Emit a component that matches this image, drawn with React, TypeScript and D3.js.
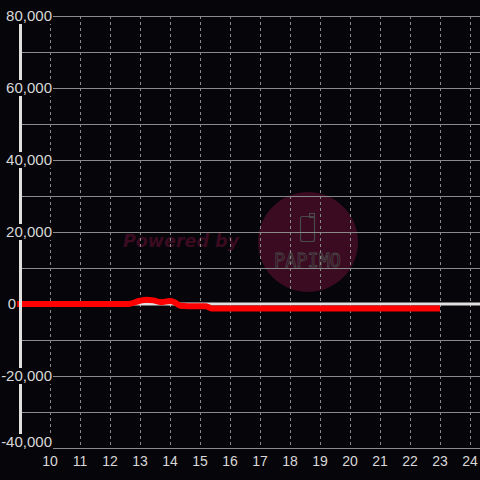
import React, { useEffect, useRef } from 'react';
import * as d3 from 'd3';

// series (hours vs value)
const times = [8.9, 12.6, 13.0, 13.2, 13.45, 13.7, 14.0, 14.15, 14.35, 14.6, 15.2, 15.4, 23];
const values = [0, 0, 900, 1200, 1000, 500, 800, 500, -500, -600, -600, -1250, -1250];

const yGridTicks = [-40000, -30000, -20000, -10000, 0, 10000, 20000, 30000, 40000, 50000, 60000, 70000, 80000];
const yLabelTicks = [-40000, -20000, 0, 20000, 40000, 60000, 80000];
const xTicks = [10, 11, 12, 13, 14, 15, 16, 17, 18, 19, 20, 21, 22, 23, 24];

const W = 480;
const H = 480;
const BG = '#060509';

const App: React.FC = () => {
  const ref = useRef<SVGSVGElement | null>(null);

  useEffect(() => {
    if (!ref.current) return;
    const svg = d3.select<SVGSVGElement, unknown>(ref.current);
    svg.selectAll('*').remove();

    const x = d3.scaleLinear().domain([9, 24]).range([20, 470]);
    const y = d3.scaleLinear().domain([-40000, 80000]).range([448, 16]);

    svg.append('rect').attr('width', W).attr('height', H).attr('fill', BG);

    // watermark
    const wm = svg.append('g');
    wm.append('text')
      .attr('x', 123)
      .attr('y', 247)
      .attr('font-family', 'DejaVu Sans')
      .attr('font-weight', 'bold')
      .attr('font-style', 'italic')
      .attr('font-size', 17.5)
      .attr('fill', '#3a0b21')
      .text('Powered by');
    wm.append('circle').attr('cx', 308).attr('cy', 242).attr('r', 50).attr('fill', '#3a0b21');
    wm.append('rect')
      .attr('x', 300.5).attr('y', 216.5).attr('width', 14).attr('height', 25).attr('rx', 2)
      .attr('fill', 'none').attr('stroke', '#4a4a4a').attr('stroke-width', 1.2);
    wm.append('rect')
      .attr('x', 309.5).attr('y', 213.5).attr('width', 5).attr('height', 4)
      .attr('fill', 'none').attr('stroke', '#4a4a4a').attr('stroke-width', 1.2);
    wm.append('text')
      .attr('x', 274)
      .attr('y', 267)
      .attr('font-family', 'DejaVu Sans Mono')
      .attr('font-size', 20)
      .attr('textLength', 67)
      .attr('lengthAdjust', 'spacingAndGlyphs')
      .attr('fill', 'none')
      .attr('stroke', '#4a4a4a')
      .attr('stroke-width', 0.8)
      .text('PAPIMO');

    // grid
    svg.append('g')
      .selectAll('line')
      .data(yGridTicks)
      .enter()
      .append('line')
      .attr('x1', 20).attr('x2', W)
      .attr('y1', (d: number) => Math.round(y(d)) + 0.5)
      .attr('y2', (d: number) => Math.round(y(d)) + 0.5)
      .attr('stroke', '#8a8a8a')
      .attr('stroke-width', 1);

    svg.append('g')
      .selectAll('line')
      .data(xTicks)
      .enter()
      .append('line')
      .attr('x1', (d: number) => Math.round(x(d)) + 0.5)
      .attr('x2', (d: number) => Math.round(x(d)) + 0.5)
      .attr('y1', y(80000)).attr('y2', y(-40000))
      .attr('stroke', '#8a8a8a')
      .attr('stroke-dasharray', '3,3')
      .attr('stroke-width', 1);

    // zero line
    svg.append('line')
      .attr('x1', 20).attr('x2', W)
      .attr('y1', y(0)).attr('y2', y(0))
      .attr('stroke', '#e0e0e0')
      .attr('stroke-width', 3);

    // series
    const pts = times.map((t, i) => [t, values[i]] as [number, number]);
    const line = d3.line<[number, number]>()
      .x((d) => x(d[0]))
      .y((d) => y(d[1]))
      .curve(d3.curveMonotoneX);
    svg.append('path')
      .attr('d', line(pts) as string)
      .attr('fill', 'none')
      .attr('stroke', '#ff0000')
      .attr('stroke-width', 6)
      .attr('stroke-linejoin', 'round');

    // y axis
    svg.append('line')
      .attr('x1', 20.5).attr('x2', 20.5)
      .attr('y1', y(80000)).attr('y2', y(-40000))
      .attr('stroke', '#e0e0e0')
      .attr('stroke-width', 3);

    // y labels with background
    const yl = svg.append('g')
      .attr('font-family', 'Liberation Sans, Arial, sans-serif')
      .attr('font-size', 15)
      .attr('fill', '#d8d8d8');
    yLabelTicks.forEach((v) => {
      const cy = Math.min(y(v), 442);
      const isZero = v === 0;
      const bgRect = yl.append('rect').attr('fill', BG);
      const t = yl.append('text')
        .attr('x', isZero ? 12 : 52)
        .attr('y', cy)
        .attr('dy', '0.35em')
        .attr('text-anchor', isZero ? 'middle' : 'end')
        .text(d3.format(',')(v).replace('\u2212', '-'));
      const bb = (t.node() as SVGTextElement).getBBox();
      bgRect
        .attr('x', bb.x - 1)
        .attr('y', cy - 8)
        .attr('width', bb.width + 2)
        .attr('height', 16);
    });

    // x labels
    svg.append('g')
      .attr('font-family', 'Liberation Sans, Arial, sans-serif')
      .attr('font-size', 14)
      .attr('fill', '#d8d8d8')
      .selectAll('text')
      .data(xTicks)
      .enter()
      .append('text')
      .attr('x', (d: number) => x(d))
      .attr('y', 461)
      .attr('dy', '0.35em')
      .attr('text-anchor', 'middle')
      .text((d: number) => `${d}`);
  }, []);

  return (
    <svg
      ref={ref}
      width={W}
      height={H}
      style={{ position: 'fixed', left: 0, top: 0, display: 'block' }}
    />
  );
};

export default App;
